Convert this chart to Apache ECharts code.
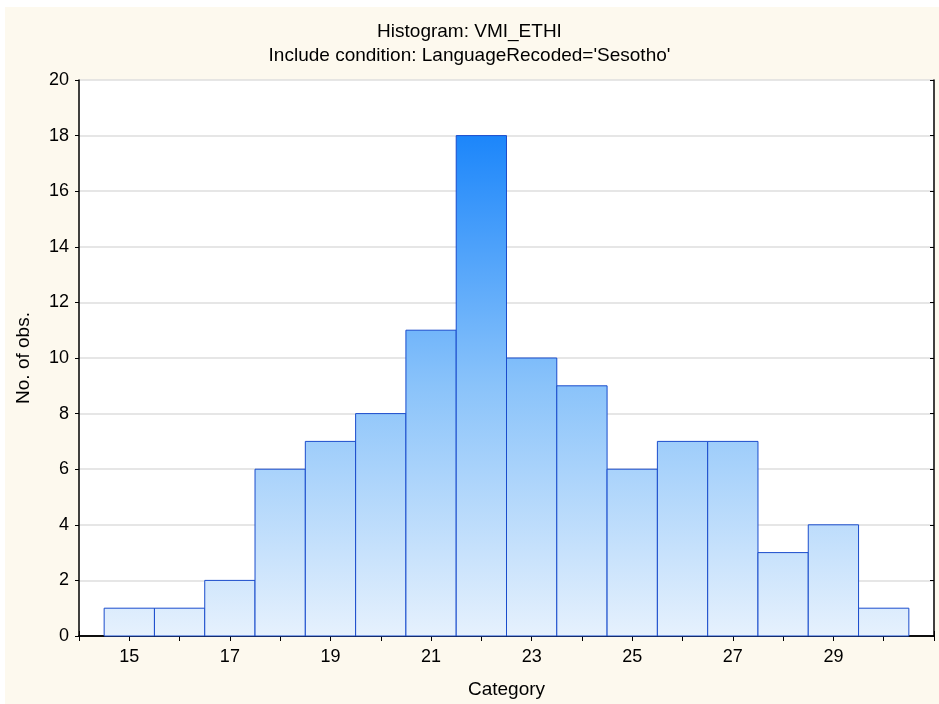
<!DOCTYPE html>
<html>
<head>
<meta charset="utf-8">
<script src="https://cdn.jsdelivr.net/npm/echarts@6/dist/echarts.min.js"></script>
<style>
    body { margin: 0; background: #ffffff; }
    .frame { position: absolute; left: 5px; top: 7px; right: 0; bottom: 0; background: #fdf9ee; }
    #chart { position: absolute; left: 0; top: 0; width: 939px; height: 704px; }
</style>
</head>
<body>
<div class="frame"></div>
<div id="chart"></div>
<script>
    // 数据：直方图各组中心值与频数
    var categories = [15, 16, 17, 18, 19, 20, 21, 22, 23, 24, 25, 26, 27, 28, 29, 30];
    var counts = [1, 1, 2, 6, 7, 8, 11, 18, 10, 9, 6, 7, 7, 3, 4, 1];
    var xTickLabels = [15, 17, 19, 21, 23, 25, 27, 29];

    var font = "'Liberation Sans', Arial, sans-serif";
    var maxCount = Math.max.apply(null, counts);

    var barData = [];
    for (var i = 0; i < categories.length; i++) {
        barData.push([categories[i], counts[i]]);
    }

    var chart = echarts.init(document.getElementById('chart'));

    function renderBar(params, api) {
        var x = api.value(0);
        var y = api.value(1);
        var p0 = api.coord([x - 0.5, 0]);
        var p1 = api.coord([x + 0.5, y]);
        var base = api.coord([x, 0])[1];
        var top = api.coord([x, maxCount])[1];
        return {
            type: 'rect',
            shape: {
                x: p0[0],
                y: p1[1],
                width: p1[0] - p0[0],
                height: p0[1] - p1[1]
            },
            style: {
                fill: new echarts.graphic.LinearGradient(0, base, 0, top, [
                    {offset: 0, color: '#e6f1fd'},
                    {offset: 0.5, color: '#8ac3fa'},
                    {offset: 1, color: '#1c86fa'}
                ], true),
                stroke: '#1a4ccc',
                lineWidth: 1
            }
        };
    }

    var axisLine = {show: true, lineStyle: {color: '#000', width: 1.5}};

    var option = {
        animation: false,
        backgroundColor: 'transparent',
        textStyle: {fontFamily: font},
        title: {
            text: 'Histogram: VMI_ETHI\nInclude condition: LanguageRecoded=\'Sesotho\'',
            left: 'center',
            top: 15,
            textStyle: {
                fontFamily: font,
                fontSize: 19,
                fontWeight: 'normal',
                color: '#000',
                lineHeight: 24
            }
        },
        grid: {
            show: true,
            backgroundColor: '#ffffff',
            borderWidth: 0,
            left: 79,
            right: 5,
            top: 80,
            bottom: 65
        },
        xAxis: [{
            type: 'value',
            position: 'bottom',
            min: 14,
            max: 31,
            interval: 1,
            axisLine: axisLine,
            axisTick: {show: true, inside: true, length: 5, lineStyle: {color: '#000'}},
            axisLabel: {
                fontFamily: font,
                fontSize: 18,
                color: '#000',
                margin: 12,
                formatter: function (val) {
                    return xTickLabels.indexOf(val) > -1 ? String(val) : '';
                }
            },
            splitLine: {show: false},
            name: 'Category',
            nameLocation: 'middle',
            nameGap: 44,
            nameTextStyle: {fontFamily: font, fontSize: 19, color: '#000'}
        }, {
            type: 'value',
            position: 'top',
            min: 14,
            max: 31,
            interval: 1,
            axisLine: axisLine,
            axisTick: {show: true, inside: true, length: 5, lineStyle: {color: '#000'}},
            axisLabel: {show: false},
            splitLine: {show: false}
        }],
        yAxis: [{
            type: 'value',
            position: 'left',
            min: 0,
            max: 20,
            interval: 2,
            axisLine: axisLine,
            axisTick: {show: true, inside: false, length: 4, lineStyle: {color: '#000'}},
            axisLabel: {fontFamily: font, fontSize: 18, color: '#000', margin: 10},
            splitLine: {show: true, lineStyle: {color: '#dedede', width: 1.5}},
            name: 'No. of obs.',
            nameLocation: 'middle',
            nameGap: 46,
            nameTextStyle: {fontFamily: font, fontSize: 19, color: '#000'}
        }, {
            type: 'value',
            position: 'right',
            min: 0,
            max: 20,
            interval: 2,
            axisLine: axisLine,
            axisTick: {show: true, inside: true, length: 4, lineStyle: {color: '#000'}},
            axisLabel: {show: false},
            splitLine: {show: false}
        }],
        series: [{
            type: 'custom',
            xAxisIndex: 0,
            yAxisIndex: 0,
            renderItem: renderBar,
            encode: {x: 0, y: 1},
            data: barData,
            z: 3
        }]
    };

    chart.setOption(option);
</script>
</body>
</html>
